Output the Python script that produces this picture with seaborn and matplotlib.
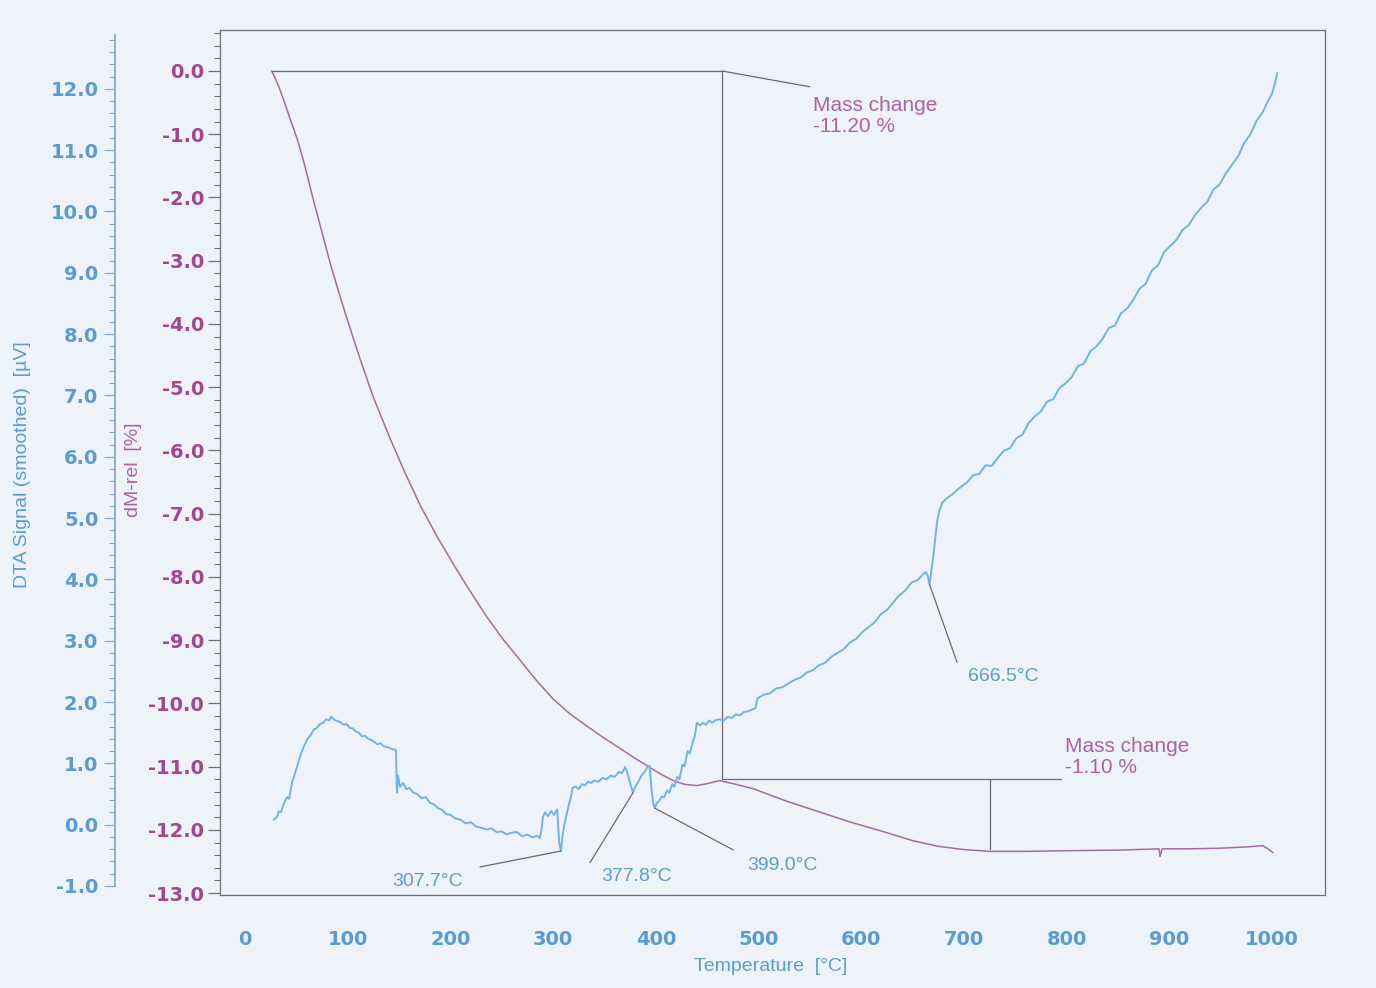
import matplotlib
matplotlib.use("Agg")
import matplotlib.pyplot as plt
import seaborn as sns
from matplotlib.ticker import MultipleLocator, FormatStrFormatter

# ---- TG curve: relative mass change [%] vs temperature [°C]
temp_tg = [26, 29, 33, 38, 44, 51, 58, 66, 75, 83, 91, 99, 112, 125, 141, 156,
           171, 187, 203, 219, 235, 251, 268, 284, 300, 316, 333, 349, 365, 380,
           394, 405, 417, 428, 440, 450, 462, 478, 495, 528, 560, 590, 622, 650,
           675, 699, 725, 760, 800, 850, 890, 891, 893, 920, 950, 975, 991, 996,
           1001]
mass_rel = [0.0, -0.10, -0.25, -0.47, -0.76, -1.08, -1.48, -2.0, -2.55, -3.04,
            -3.48, -3.90, -4.55, -5.16, -5.80, -6.36, -6.88, -7.36, -7.80, -8.22,
            -8.62, -8.98, -9.32, -9.64, -9.93, -10.16, -10.36, -10.54, -10.71,
            -10.87, -11.01, -11.12, -11.22, -11.28, -11.30, -11.27, -11.22, -11.28,
            -11.35, -11.55, -11.72, -11.88, -12.03, -12.17, -12.26, -12.31, -12.34,
            -12.34, -12.33, -12.32, -12.30, -12.42, -12.30, -12.30, -12.29, -12.27,
            -12.25, -12.30, -12.36]

# ---- DTA curve: smoothed signal [µV] vs temperature [°C]
temp_dta = [28, 31, 33, 35, 38, 41, 43, 46, 49, 52, 55, 58, 61, 64, 67, 70, 73, 76,
            79, 82, 84, 87, 90, 93, 96, 99, 102, 105, 108, 111, 114, 117, 120, 123,
            126, 129, 132, 135, 138, 141, 144, 147, 148, 149, 151, 154, 157, 160,
            164, 168, 172, 176, 180, 184, 188, 192, 196, 200, 205, 210, 215, 220,
            225, 230, 235, 240, 245, 250, 255, 260, 265, 270, 275, 280, 284, 287,
            289, 290, 292, 295, 298, 301, 304, 306, 307.7, 309, 311, 313, 315, 317,
            319, 322, 325, 328, 331, 334, 337, 340, 344, 348, 352, 356, 360, 364,
            367, 370, 372, 374, 377.8, 380, 383, 386, 389, 392, 394, 396, 397.5,
            399, 401, 403, 406, 408, 411, 413, 416, 418, 421, 423, 426, 428, 431,
            433, 436, 438, 440, 443, 446, 449, 452, 455, 458, 462, 466, 470, 474,
            478, 482, 486, 490, 494, 497, 499, 505, 511, 517, 523, 529, 535, 541,
            547, 553, 559, 565, 571, 577, 583, 589, 595, 601, 607, 613, 619, 625,
            631, 637, 643, 649, 655, 660, 663, 665, 666.5, 668, 670, 672, 674, 676,
            679, 683, 688, 693, 698, 703, 709, 715, 721, 727, 733, 739, 745, 751,
            757, 763, 769, 775, 781, 787, 793, 799, 805, 811, 817, 823, 829, 835,
            841, 847, 853, 859, 865, 871, 877, 883, 889, 895, 901, 907, 913, 919,
            925, 931, 937, 943, 949, 955, 961, 967, 973, 979, 985, 991, 996, 1000,
            1003, 1005]
dta_signal = [0.08, 0.12, 0.22, 0.20, 0.35, 0.45, 0.42, 0.70, 0.85, 1.02, 1.18,
              1.30, 1.40, 1.46, 1.55, 1.58, 1.64, 1.66, 1.72, 1.70, 1.76, 1.71,
              1.69, 1.67, 1.63, 1.64, 1.58, 1.57, 1.52, 1.50, 1.44, 1.45, 1.40,
              1.38, 1.35, 1.31, 1.33, 1.28, 1.27, 1.25, 1.23, 1.22, 0.52, 0.80,
              0.62, 0.68, 0.58, 0.60, 0.52, 0.50, 0.43, 0.45, 0.36, 0.33, 0.27,
              0.24, 0.17, 0.16, 0.10, 0.08, 0.02, 0.04, -0.03, -0.05, -0.08, -0.06,
              -0.12, -0.11, -0.16, -0.13, -0.12, -0.19, -0.16, -0.21, -0.18, -0.22,
              -0.05, 0.12, 0.20, 0.14, 0.22, 0.16, 0.25, -0.30, -0.43, -0.20, 0.00,
              0.15, 0.30, 0.42, 0.60, 0.62, 0.58, 0.66, 0.64, 0.70, 0.68, 0.72,
              0.70, 0.76, 0.74, 0.80, 0.78, 0.86, 0.84, 0.94, 0.86, 0.74, 0.52,
              0.62, 0.70, 0.80, 0.86, 0.94, 0.96, 0.55, 0.35, 0.27, 0.35, 0.38,
              0.46, 0.44, 0.56, 0.52, 0.66, 0.62, 0.78, 0.74, 0.98, 0.95, 1.20,
              1.16, 1.35, 1.45, 1.66, 1.62, 1.66, 1.63, 1.70, 1.66, 1.70, 1.72,
              1.70, 1.76, 1.74, 1.80, 1.78, 1.84, 1.85, 1.88, 1.90, 2.06, 2.12,
              2.14, 2.22, 2.24, 2.30, 2.36, 2.40, 2.48, 2.52, 2.60, 2.64, 2.74,
              2.80, 2.86, 2.97, 3.03, 3.14, 3.22, 3.30, 3.43, 3.50, 3.62, 3.74,
              3.82, 3.95, 3.99, 4.08, 4.12, 4.05, 3.92, 4.10, 4.35, 4.65, 4.95,
              5.12, 5.25, 5.32, 5.38, 5.45, 5.52, 5.58, 5.70, 5.72, 5.86, 5.85,
              5.98, 6.10, 6.14, 6.30, 6.36, 6.55, 6.66, 6.74, 6.90, 6.94, 7.12,
              7.20, 7.30, 7.48, 7.52, 7.72, 7.80, 7.92, 8.10, 8.14, 8.34, 8.42,
              8.56, 8.74, 8.82, 9.04, 9.12, 9.34, 9.44, 9.54, 9.70, 9.78, 9.94,
              10.06, 10.16, 10.36, 10.44, 10.62, 10.76, 10.90, 11.12, 11.26, 11.48,
              11.62, 11.80, 11.92, 12.10, 12.26]

# ---- Evaluated steps
step1_temp, step1_from, step1_change = 464.5, 0.0, -11.20
step2_temp, step2_change = 725.4, -1.10
step_line_end = 795.0
peak_temps = [307.7, 377.8, 399.0, 666.5]
peak_values = [-0.43, 0.52, 0.27, 3.92]

sns.set_theme(style="white")
plt.rcParams['font.family'] = ['DejaVu Sans']

BG = '#eef3f9'
BLUE = '#5b9bd3'
BLUE_LINE = '#70b3e6'
PURPLE = '#a1468f'
PURPLE_TXT = '#ab62a3'
PURPLE_LINE = '#a56c9f'
FRAME = '#6f6f78'
LEADER = '#6a6a6a'
TXT_FONT = ['Liberation Sans', 'DejaVu Sans']

fig = plt.figure(figsize=(13.76, 9.88), dpi=100, facecolor=BG)
ax = fig.add_axes([220 / 1376, 1 - 895 / 988, (1325 - 220) / 1376, (895 - 30) / 988])
ax.set_facecolor(BG)
ax2 = ax.twinx()

# mass curve
sns.lineplot(x=temp_tg, y=mass_rel, ax=ax, color=PURPLE_LINE, lw=1.1,
             sort=False, estimator=None)
# DTA curve
sns.lineplot(x=temp_dta, y=dta_signal, ax=ax2, color=BLUE_LINE, lw=1.4,
             sort=False, estimator=None)

ax.set_xlim(-24.3, 1051.6)
ax.set_ylim(-13.03, 0.648)
ax2.set_ylim(-1.147, 12.96)

# ---- step evaluation brackets (mass axis)
lkw = dict(color=LEADER, lw=0.9)
step1_end = step1_from + step1_change
step2_end = step1_end + step2_change
ax.plot([temp_tg[0], step1_temp], [step1_from, step1_from], **lkw)
ax.plot([step1_temp, step1_temp], [step1_from, step1_end], **lkw)
ax.plot([step1_temp, step_line_end], [step1_end, step1_end], **lkw)
ax.plot([step2_temp, step2_temp], [step1_end, step2_end], **lkw)
ax.plot([step1_temp, 550], [step1_from, -0.25], **lkw)

tkw = dict(color=PURPLE_TXT, fontsize=15, family=TXT_FONT,
           linespacing=1.15, ha='left', va='center')
ax.text(553, -0.71, f"Mass change\n{step1_change:.2f} %", **tkw)
ax.text(798, -10.85, f"Mass change\n{step2_change:.2f} %", **tkw)

# ---- peak labels (DTA axis): leader end point and label centre
leader_ends = [(228.8, -0.69), (335.9, -0.62), (475.2, -0.41), (693.3, 2.65)]
label_pos = [(178.2, -0.92), (381.7, -0.85), (522.9, -0.66), (738.1, 2.41)]
for t, v, (ex, ey), (tx, ty) in zip(peak_temps, peak_values, leader_ends, label_pos):
    ax2.plot([t, ex], [v, ey], **lkw)
    ax2.text(tx, ty, f"{t:.1f}°C", ha='center', va='center', color=BLUE,
             fontsize=14, family=TXT_FONT)

# ---- axes styling
for name, sp in ax.spines.items():
    sp.set_color(FRAME)
    sp.set_linewidth(0.9)
for name in ['top', 'right', 'bottom']:
    ax2.spines[name].set_visible(False)
ax2.spines['left'].set_visible(True)
ax2.spines['left'].set_position(('axes', -105 / 1105))
ax2.spines['left'].set_bounds(-1.0, 12.88)
ax2.spines['left'].set_color('#7fa9d3')
ax2.yaxis.set_ticks_position('left')
ax2.yaxis.set_label_position('left')

ax.xaxis.set_major_locator(MultipleLocator(100))
ax.xaxis.set_minor_locator(MultipleLocator(20))
ax.xaxis.set_major_formatter(FormatStrFormatter('%d'))
ax.yaxis.set_major_locator(MultipleLocator(1.0))
ax.yaxis.set_minor_locator(MultipleLocator(0.2))
ax.yaxis.set_major_formatter(FormatStrFormatter('%.1f'))
ax2.yaxis.set_major_locator(MultipleLocator(1.0))
ax2.yaxis.set_minor_locator(MultipleLocator(0.2))
ax2.yaxis.set_major_formatter(FormatStrFormatter('%.1f'))

ax.tick_params(axis='x', which='major', direction='out', length=12, width=0.9,
               color='#9aa6b4', pad=13, labelsize=14, labelcolor=BLUE)
ax.tick_params(axis='x', which='minor', direction='out', length=5, width=0.8,
               color='#9aa6b4')
ax.tick_params(axis='y', which='major', direction='out', length=8.5, width=0.9,
               color=FRAME, pad=3, labelsize=14, labelcolor=PURPLE)
ax.tick_params(axis='y', which='minor', direction='out', length=4, width=0.8,
               color=FRAME)
ax2.tick_params(axis='y', which='major', direction='out', length=8, width=0.9,
                color='#7fa9d3', pad=4, labelsize=14, labelcolor=BLUE,
                left=True, right=False, labelleft=True, labelright=False)
ax2.tick_params(axis='y', which='minor', direction='out', length=4, width=0.8,
                color='#7fa9d3', left=True, right=False)
for lab in ax.get_xticklabels() + ax.get_yticklabels() + ax2.get_yticklabels():
    lab.set_fontweight('bold')

ax.set_xlabel('')
ax.set_ylabel('')
ax2.set_ylabel('')

fig.text(23 / 1376, 1 - 465 / 988, 'DTA Signal (smoothed)  [µV]', rotation=90,
         ha='center', va='center', color=BLUE, fontsize=14, family=TXT_FONT)
fig.text(133 / 1376, 1 - 470 / 988, 'dM-rel  [%]', rotation=90,
         ha='center', va='center', color=PURPLE_TXT, fontsize=14, family=TXT_FONT)
fig.text(771 / 1376, 1 - 966 / 988, 'Temperature  [°C]', ha='center', va='center',
         color=BLUE, fontsize=14, family=TXT_FONT)

fig.savefig('out.png', dpi=100, facecolor=BG)
